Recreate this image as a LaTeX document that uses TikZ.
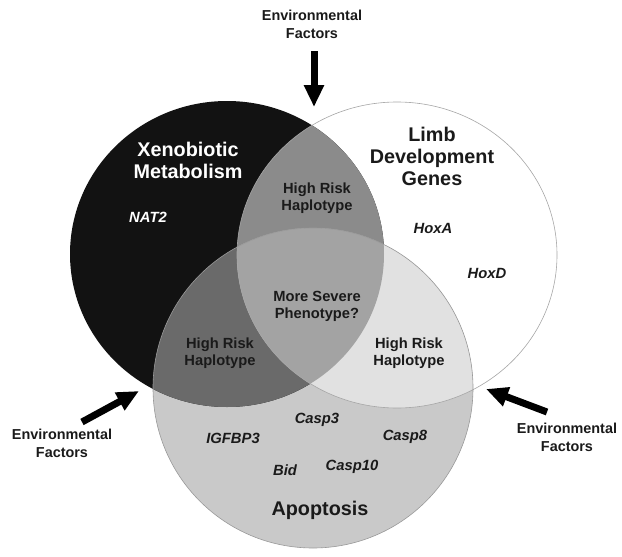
\documentclass[tikz,border=0pt]{standalone}
\usepackage{fontspec}
\setmainfont{Liberation Sans}
\usetikzlibrary{arrows.meta}
\definecolor{cBlack}{HTML}{121212}
\definecolor{cBW}{HTML}{8B8B8B}
\definecolor{cBG}{HTML}{6A6A6A}
\definecolor{cAll}{HTML}{A3A3A3}
\definecolor{cWG}{HTML}{E1E1E1}
\definecolor{cGray}{HTML}{C9C9C9}
\definecolor{cText}{HTML}{1A1A1A}
\begin{document}
\begin{tikzpicture}[x=1pt,y=-1pt,
  title/.style={font=\bfseries\fontsize{19.8}{22}\selectfont, align=center, text=cText},
  region/.style={font=\bfseries\fontsize{14.7}{17}\selectfont, align=center, text=cText},
  gene/.style={font=\bfseries\itshape\fontsize{14.8}{16}\selectfont, text=cText},
  envtext/.style={font=\bfseries\fontsize{14.4}{18}\selectfont, align=center, text=cText},
  envarrow/.style={line width=7pt, -{Triangle[width=19pt,length=22pt]}, black}]
\useasboundingbox (0,0) rectangle (622,557);
\def\blackc{(227,254) ellipse [x radius=157pt, y radius=153pt]}
\def\whitec{(397,255) ellipse [x radius=160pt, y radius=153pt]}
\def\grayc{(313,388) ellipse [x radius=160pt, y radius=160pt]}
% base fills
\fill[white] \whitec;
\fill[cGray] \grayc;
\fill[cBlack] \blackc;
\begin{scope}\clip \blackc; \fill[cBW] \whitec; \end{scope}
\begin{scope}\clip \blackc; \fill[cBG] \grayc; \end{scope}
\begin{scope}\clip \whitec; \fill[cWG] \grayc; \end{scope}
\begin{scope}\clip \blackc; \clip \whitec; \fill[cAll] \grayc; \end{scope}
% outlines
\draw[line width=0.6pt, color=black!35] \whitec;
\draw[line width=0.6pt, color=black!40] \grayc;
% titles
\node[title, text=white] (xeno) at (188,160) {Xenobiotic\\Metabolism};
\node[title] (limb) at (432,156) {Limb\\Development\\Genes};
\node[title] (apop) at (320,510) {Apoptosis};
% region labels
\node[region] (hrtop) at (317,198) {High Risk\\Haplotype};
\node[region] (severe) at (317,306) {More Severe\\Phenotype?};
\node[region] (hrleft) at (220,353) {High Risk\\Haplotype};
\node[region] (hrright) at (409,353) {High Risk\\Haplotype};
% genes
\node[gene, text=white] (nat2) at (148,217) {NAT2};
\node[gene] (hoxa) at (433,228) {HoxA};
\node[gene] (hoxd) at (487,273) {HoxD};
\node[gene] (casp3) at (317,420) {Casp3};
\node[gene] (igfbp3) at (233,438) {IGFBP3};
\node[gene] (casp8) at (405,437) {Casp8};
\node[gene] (bid) at (285,470) {Bid};
\node[gene] (casp10) at (352,467) {Casp10};
% environmental factors
\node[envtext] (envtop) at (312,24) {Environmental\\Factors};
\node[envtext] (envleft) at (62,443) {Environmental\\Factors};
\node[envtext] (envright) at (567,437) {Environmental\\Factors};
\coordinate (toptail) at (314,51);
\coordinate (toptip) at (314,107);
\coordinate (lefttail) at (82,422);
\coordinate (lefttip) at (139,391);
\coordinate (righttail) at (547,412);
\coordinate (righttip) at (486,389);
\draw[envarrow] (toptail) -- (toptip);
\draw[envarrow] (lefttail) -- (lefttip);
\draw[envarrow] (righttail) -- (righttip);
\end{tikzpicture}
\end{document}
